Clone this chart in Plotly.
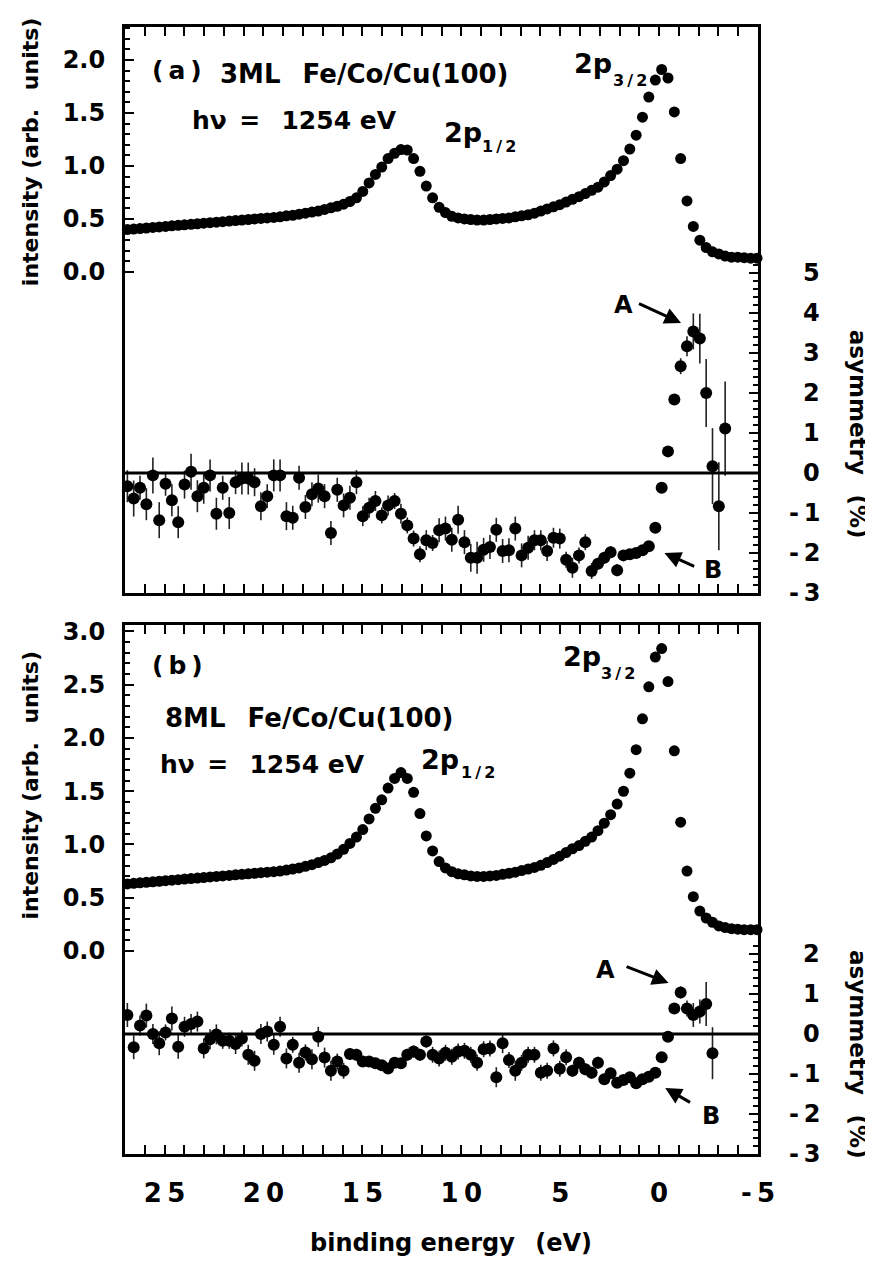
import plotly.graph_objects as go

# ---------------- data ----------------
# binding energy grid (eV), descending
E = [26.88, 26.56, 26.24, 25.92, 25.59, 25.27, 24.95, 24.63, 24.31, 23.99,
     23.66, 23.34, 23.02, 22.70, 22.38, 22.06, 21.73, 21.41, 21.09, 20.77,
     20.45, 20.13, 19.81, 19.48, 19.16, 18.84, 18.52, 18.20, 17.88, 17.55,
     17.23, 16.91, 16.59, 16.27, 15.95, 15.63, 15.30, 14.98, 14.66, 14.34,
     14.02, 13.70, 13.37, 13.05, 12.73, 12.41, 12.09, 11.77, 11.45, 11.12,
     10.80, 10.48, 10.16, 9.84, 9.52, 9.20, 8.87, 8.55, 8.23, 7.91,
     7.59, 7.27, 6.95, 6.62, 6.30, 5.98, 5.66, 5.34, 5.02, 4.70,
     4.38, 4.05, 3.73, 3.41, 3.09, 2.77, 2.45, 2.12, 1.80, 1.48,
     1.16, 0.84, 0.52, 0.19, -0.13, -0.45, -0.77, -1.09, -1.41, -1.73,
     -2.06, -2.38, -2.70, -3.02, -3.34, -3.66, -3.98, -4.30, -4.63, -4.95]

# (a) 3ML Fe/Co/Cu(100): intensity (arb. units)
int_a = [0.40, 0.405, 0.41, 0.415, 0.42, 0.425, 0.43, 0.435, 0.44, 0.445,
         0.45, 0.455, 0.46, 0.465, 0.47, 0.475, 0.48, 0.485, 0.49, 0.495,
         0.50, 0.505, 0.51, 0.515, 0.52, 0.53, 0.535, 0.545, 0.555, 0.565,
         0.575, 0.59, 0.605, 0.62, 0.64, 0.665, 0.70, 0.76, 0.84, 0.92,
         0.99, 1.07, 1.12, 1.155, 1.15, 1.07, 0.95, 0.81, 0.70, 0.61,
         0.56, 0.525, 0.51, 0.50, 0.495, 0.49, 0.49, 0.495, 0.50, 0.505,
         0.51, 0.52, 0.53, 0.54, 0.555, 0.575, 0.595, 0.615, 0.635, 0.66,
         0.685, 0.71, 0.74, 0.77, 0.80, 0.85, 0.91, 0.97, 1.05, 1.16,
         1.29, 1.46, 1.65, 1.81, 1.91, 1.83, 1.51, 1.07, 0.67, 0.43,
         0.30, 0.23, 0.19, 0.17, 0.15, 0.14, 0.14, 0.135, 0.13, 0.13]

# (a) asymmetry (%) and its error, for the first 95 energies
asym_a = [-0.33, -0.64, -0.37, -0.78, -0.06, -1.18, -0.27, -0.68, -1.23, -0.29,
          0.03, -0.58, -0.37, -0.06, -1.02, -0.37, -1.00, -0.23, -0.14, -0.14,
          -0.23, -0.83, -0.58, -0.06, -0.06, -1.08, -1.12, -0.12, -0.85, -0.53,
          -0.39, -0.58, -1.50, -0.42, -0.81, -0.62, -0.23, -1.08, -0.87, -0.70,
          -1.06, -0.81, -0.70, -1.02, -1.31, -1.64, -2.03, -1.68, -1.75, -1.43,
          -1.39, -1.67, -1.17, -1.73, -2.12, -2.12, -1.92, -1.85, -1.42, -1.95,
          -1.93, -1.39, -2.06, -1.87, -1.68, -1.68, -1.95, -1.62, -1.64, -2.17,
          -2.37, -2.06, -1.73, -2.45, -2.27, -2.12, -1.98, -2.43, -2.06, -2.03,
          -2.00, -1.93, -1.83, -1.37, -0.37, 0.54, 1.84, 2.67, 3.17, 3.54,
          3.36, 2.00, 0.17, -0.83, 1.11]
err_a = [0.40, 0.45, 0.30, 0.40, 0.45, 0.45, 0.30, 0.40, 0.40, 0.35,
         0.45, 0.40, 0.40, 0.40, 0.40, 0.30, 0.40, 0.30, 0.40, 0.40,
         0.35, 0.35, 0.30, 0.40, 0.40, 0.35, 0.30, 0.30, 0.30, 0.30,
         0.35, 0.30, 0.30, 0.30, 0.30, 0.30, 0.30, 0.25, 0.25, 0.25,
         0.20, 0.25, 0.20, 0.25, 0.20, 0.20, 0.20, 0.25, 0.20, 0.30,
         0.30, 0.30, 0.35, 0.30, 0.35, 0.40, 0.30, 0.30, 0.30, 0.30,
         0.30, 0.30, 0.30, 0.30, 0.25, 0.25, 0.25, 0.25, 0.25, 0.20,
         0.25, 0.20, 0.20, 0.20, 0.15, 0.15, 0.15, 0.15, 0.12, 0.10,
         0.10, 0.10, 0.10, 0.10, 0.10, 0.10, 0.10, 0.20, 0.25, 0.45,
         0.62, 0.85, 0.95, 1.10, 1.18]

# (b) 8ML Fe/Co/Cu(100): intensity (arb. units)
int_b = [0.63, 0.635, 0.64, 0.645, 0.65, 0.655, 0.66, 0.665, 0.67, 0.675,
         0.68, 0.685, 0.69, 0.695, 0.70, 0.705, 0.71, 0.715, 0.72, 0.725,
         0.73, 0.735, 0.74, 0.745, 0.75, 0.76, 0.77, 0.78, 0.795, 0.81,
         0.83, 0.85, 0.875, 0.91, 0.955, 1.01, 1.07, 1.14, 1.24, 1.34,
         1.42, 1.53, 1.62, 1.675, 1.62, 1.49, 1.29, 1.08, 0.94, 0.84,
         0.78, 0.745, 0.725, 0.715, 0.705, 0.70, 0.70, 0.705, 0.71, 0.72,
         0.73, 0.74, 0.755, 0.77, 0.785, 0.805, 0.83, 0.86, 0.89, 0.925,
         0.96, 0.99, 1.03, 1.07, 1.13, 1.20, 1.28, 1.38, 1.50, 1.67,
         1.89, 2.18, 2.48, 2.76, 2.84, 2.53, 1.88, 1.21, 0.75, 0.51,
         0.375, 0.31, 0.27, 0.235, 0.22, 0.21, 0.205, 0.20, 0.20, 0.20]

# (b) asymmetry (%) and its error, for the first 93 energies
asym_b = [0.475, -0.33, 0.21, 0.46, 0.0, -0.23, 0.04, 0.39, -0.32, 0.18,
          0.25, 0.31, -0.36, -0.13, -0.01, -0.17, -0.17, -0.25, -0.11, -0.52,
          -0.67, 0.0, 0.06, -0.27, 0.18, -0.61, -0.27, -0.72, -0.46, -0.63,
          -0.07, -0.59, -0.92, -0.69, -0.92, -0.50, -0.52, -0.69, -0.69, -0.73,
          -0.78, -0.86, -0.72, -0.73, -0.52, -0.44, -0.52, -0.19, -0.52, -0.61,
          -0.47, -0.57, -0.44, -0.42, -0.52, -0.72, -0.38, -0.36, -1.08, -0.23,
          -0.65, -0.92, -0.72, -0.52, -0.52, -0.97, -0.92, -0.36, -0.87, -0.58,
          -0.92, -0.72, -0.88, -0.97, -0.72, -1.13, -0.98, -1.22, -1.15, -1.08,
          -1.23, -1.13, -1.07, -0.97, -0.58, -0.07, 0.64, 1.04, 0.64, 0.475,
          0.56, 0.75, -0.48]
err_b = [0.30, 0.30, 0.25, 0.30, 0.25, 0.30, 0.20, 0.30, 0.30, 0.25,
         0.25, 0.25, 0.25, 0.25, 0.25, 0.20, 0.20, 0.25, 0.20, 0.25,
         0.25, 0.25, 0.25, 0.25, 0.25, 0.25, 0.20, 0.25, 0.20, 0.25,
         0.25, 0.25, 0.25, 0.20, 0.20, 0.15, 0.15, 0.12, 0.12, 0.12,
         0.12, 0.12, 0.12, 0.12, 0.15, 0.15, 0.15, 0.15, 0.20, 0.20,
         0.20, 0.20, 0.20, 0.20, 0.20, 0.20, 0.20, 0.20, 0.25, 0.25,
         0.20, 0.25, 0.20, 0.20, 0.20, 0.20, 0.20, 0.20, 0.20, 0.20,
         0.15, 0.15, 0.15, 0.15, 0.15, 0.10, 0.10, 0.10, 0.10, 0.10,
         0.10, 0.10, 0.10, 0.10, 0.10, 0.10, 0.12, 0.15, 0.20, 0.30,
         0.30, 0.55, 0.65]

# tick values / labels
x_major = [25, 20, 15, 10, 5, 0, -5]
x_labels = ["2\u20095", "2\u20090", "1\u20095", "1\u20090", "5", "0", "-\u20095"]
int_a_ticks = [0.0, 0.5, 1.0, 1.5, 2.0]
int_b_ticks = [0.0, 0.5, 1.0, 1.5, 2.0, 2.5, 3.0]
asym_a_ticks = [-3, -2, -1, 0, 1, 2, 3, 4, 5]
asym_b_ticks = [-3, -2, -1, 0, 1, 2]

# ---------------- style ----------------
FAM = "DejaVu Sans"
BLACK = "black"


def bold(size):
    return dict(family=FAM, size=size, color=BLACK, weight="bold")


def asym_label(v):
    return "-\u2009" + str(-v) if v < 0 else str(v)


fig = go.Figure()

mk = dict(color=BLACK, size=11, line=dict(width=0))
mk2 = dict(color=BLACK, size=12, line=dict(width=0))
eb = lambda arr: dict(type="data", array=arr, visible=True, color="#222222",
                      thickness=1.6, width=0)

fig.add_trace(go.Scatter(x=E, y=int_a, mode="markers", marker=mk,
                         xaxis="x", yaxis="y", cliponaxis=False))
fig.add_trace(go.Scatter(x=E[:len(asym_a)], y=asym_a, mode="markers", marker=mk2,
                         error_y=eb(err_a), xaxis="x", yaxis="y2"))
fig.add_trace(go.Scatter(x=E, y=int_b, mode="markers", marker=mk,
                         xaxis="x2", yaxis="y3", cliponaxis=False))
fig.add_trace(go.Scatter(x=E[:len(asym_b)], y=asym_b, mode="markers", marker=mk2,
                         error_y=eb(err_b), xaxis="x2", yaxis="y4"))

x_minor = [v for v in range(-5, 28) if v % 5 != 0]


def xaxis(anchor, show_labels):
    return dict(range=[27, -5], domain=[0, 1], anchor=anchor,
                showline=True, linecolor=BLACK, linewidth=3, mirror="allticks",
                ticks="inside", ticklen=9, tickwidth=2, tickcolor=BLACK,
                tickmode="array", tickvals=x_major, ticktext=x_labels,
                showticklabels=show_labels, tickfont=bold(26),
                ticklabelstandoff=14,
                minor=dict(tickmode="array", tickvals=x_minor, ticks="inside",
                           ticklen=5, tickwidth=2, tickcolor=BLACK),
                showgrid=False, zeroline=False)


def left_axis(domain, rng, ticks, top, anchor):
    minor = [round(i * 0.1, 1) for i in range(0, int(top * 10) + 1)
             if (i % 5) != 0]
    return dict(domain=domain, range=rng, anchor=anchor,
                side="left", showline=True, linecolor=BLACK, linewidth=3,
                ticks="inside", ticklen=9, tickwidth=2, tickcolor=BLACK,
                tickmode="array", tickvals=ticks,
                ticktext=["%.1f" % t for t in ticks], tickfont=bold(24),
                ticklabelstandoff=12,
                minor=dict(tickmode="array", tickvals=minor, ticks="inside",
                           ticklen=5, tickwidth=2, tickcolor=BLACK),
                showgrid=False, zeroline=False)


def right_axis(over, anchor, rng, ticks, top):
    minor = [round(-3 + i * 0.2, 1) for i in range(0, int((top + 3) / 0.2) + 1)]
    minor = [m for m in minor if abs(m - round(m)) > 1e-6]
    return dict(overlaying=over, anchor=anchor, side="right", range=rng,
                showline=True, linecolor=BLACK, linewidth=3,
                ticks="inside", ticklen=9, tickwidth=2, tickcolor=BLACK,
                tickmode="array", tickvals=ticks, showticklabels=False,
                minor=dict(tickmode="array", tickvals=minor, ticks="inside",
                           ticklen=5, tickwidth=1.5, tickcolor=BLACK),
                showgrid=False, zeroline=False)


# the page body has an 8 px margin, so the figure is 8 px smaller on each axis
fig.update_layout(
    width=865, height=1253, autosize=False,
    margin=dict(l=117, r=115, t=19, b=107, pad=0),
    paper_bgcolor="white", plot_bgcolor="white", showlegend=False,
    xaxis=xaxis("y", False),
    xaxis2=xaxis("y3", True),
    yaxis=left_axis([0.4978, 1.0], [-3.028, 2.311], int_a_ticks, 2.3, "x"),
    yaxis2=right_axis("y", "x", [-3.0, 11.15], asym_a_ticks, 5.4),
    yaxis3=left_axis([0.0, 0.4694], [-1.906, 3.061], int_b_ticks, 3.0, "x2"),
    yaxis4=right_axis("y3", "x2", [-3.0, 10.225], asym_b_ticks, 2.2),
)

# zero lines of the asymmetry
for xr, yr in (("x domain", "y2"), ("x2 domain", "y4")):
    fig.add_shape(type="line", xref=xr, x0=0, x1=1, yref=yr, y0=0, y1=0,
                  line=dict(color=BLACK, width=3))

ann = []


def txt(text, x, y, xref, yref, size, xanchor="left", yanchor="middle", angle=0):
    ann.append(dict(text=text, x=x, y=y, xref=xref, yref=yref, showarrow=False,
                    xanchor=xanchor, yanchor=yanchor, textangle=angle,
                    font=bold(size)))


def arrow(x, y, ax, ay, xref, yref):
    ann.append(dict(text="", x=x, y=y, ax=ax, ay=ay, xref=xref, yref=yref,
                    axref=xref, ayref=yref, showarrow=True, arrowhead=2,
                    arrowsize=1.1, arrowwidth=3, arrowcolor=BLACK))


# right-hand asymmetry tick labels
for v in asym_a_ticks:
    txt(asym_label(v), 1.101, v, "paper", "y2", 24, xanchor="right")
for v in asym_b_ticks:
    txt(asym_label(v), 1.101, v, "paper", "y4", 24, xanchor="right")

# panel (a) texts
txt("(\u2009a\u2009)", 25.74, 1.90, "x", "y", 25)
txt("3ML\u2002 Fe/Co/Cu(100)", 22.3, 1.87, "x", "y", 26)
txt("h\u03bd\u2002=\u2002 1254 eV", 23.7, 1.43, "x", "y", 25)
txt("2p", 11.0, 1.32, "x", "y", 27)
txt("1\u2009/\u20092", 9.03, 1.18, "x", "y", 16)
txt("2p", 4.42, 1.97, "x", "y", 27)
txt("3\u2009/\u20092", 2.44, 1.81, "x", "y", 16)
txt("A", 1.8, 4.2, "x", "y2", 24, xanchor="center")
arrow(-1.11, 3.75, 1.09, 4.25, "x", "y2")
txt("B", -2.75, -2.43, "x", "y2", 24, xanchor="center")
arrow(-0.27, -2.0, -1.85, -2.35, "x", "y2")

# panel (b) texts
txt("(\u2009b\u2009)", 25.73, 2.685, "x2", "y3", 25)
txt("8ML\u2002 Fe/Co/Cu(100)", 25.1, 2.19, "x2", "y3", 26)
txt("h\u03bd\u2002=\u2002 1254 eV", 25.33, 1.75, "x2", "y3", 25)
txt("2p", 12.16, 1.80, "x2", "y3", 27)
txt("1\u2009/\u20092", 10.14, 1.68, "x2", "y3", 16)
txt("2p", 4.97, 2.765, "x2", "y3", 27)
txt("3\u2009/\u20092", 3.05, 2.61, "x2", "y3", 16)
txt("A", 2.7, 1.6, "x2", "y4", 24, xanchor="center")
arrow(-0.48, 1.275, 1.72, 1.7, "x2", "y4")
txt("B", -2.63, -2.05, "x2", "y4", 24, xanchor="center")
arrow(-0.31, -1.35, -1.64, -1.73, "x2", "y4")

# axis titles
txt("intensity (arb.\u2002 units)", -0.150, 0.889, "paper", "paper", 22,
    xanchor="center", angle=-90)
txt("intensity (arb.\u2002 units)", -0.150, 0.327, "paper", "paper", 22,
    xanchor="center", angle=-90)
txt("asymmetry\u2002 (%)", 1.158, 0.639, "paper", "paper", 23,
    xanchor="center", angle=90)
txt("asymmetry\u2002 (%)", 1.158, 0.0887, "paper", "paper", 23,
    xanchor="center", angle=90)
txt("binding energy\u2002 (eV)", 0.515, -0.079, "paper", "paper", 24,
    xanchor="center")

fig.update_layout(annotations=ann)
fig.write_html("out.html")
